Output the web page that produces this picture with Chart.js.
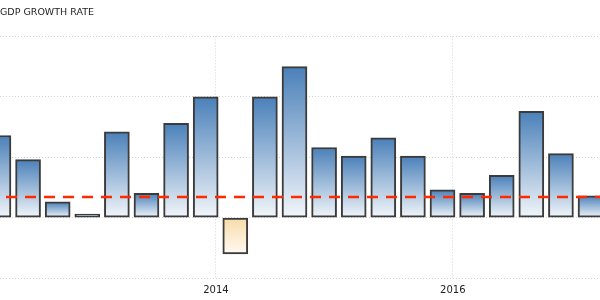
<!DOCTYPE html>
<html>
<head>
<meta charset="utf-8">
<script src="https://cdn.jsdelivr.net/npm/chart.js@4/dist/chart.umd.min.js"></script>
<style>
  html, body { margin: 0; padding: 0; background: #fff; }
  #wrap { width: 600px; height: 300px; }
</style>
</head>
<body>
<div id="wrap"><canvas id="gdpChart"></canvas></div>
<script>
// quarterly GDP growth, q/q %
const quarters = ['2012Q1', '2012Q2', '2012Q3', '2012Q4', '2013Q1', '2013Q2', '2013Q3', '2013Q4',
    '2014Q1', '2014Q2', '2014Q3', '2014Q4', '2015Q1', '2015Q2', '2015Q3', '2015Q4',
    '2016Q1', '2016Q2', '2016Q3', '2016Q4', '2017Q1'];
const growth = [0.68, 0.48, 0.13, 0.03, 0.71, 0.20, 0.78, 1.00,
    -0.30, 1.00, 1.25, 0.58, 0.51, 0.66, 0.51, 0.23,
    0.20, 0.35, 0.88, 0.53, 0.18];
const average = 0.17;
const tickYears = [2014, 2016];
const gridValues = [-0.5, 0, 0.5, 1, 1.5];

// bars sit a little into each quarter on the time axis
function quarterToX(label) {
    const year = parseInt(label.slice(0, 4));
    const q = parseInt(label.slice(5));
    return year + (q - 1) * 0.25 + 0.163;
}

const xMin = 2012.176;
const xMax = 2017.243;

const barPoints = quarters.map((q, i) => ({ x: quarterToX(q), y: growth[i] }));

function barFill(context) {
    const chart = context.chart;
    const area = chart.chartArea;
    const v = context.raw ? context.raw.y : 0;
    if (!area) return v < 0 ? '#f8dcaa' : '#4f86bf';
    const y = chart.scales.y;
    const top = y.getPixelForValue(Math.max(v, 0));
    const bottom = y.getPixelForValue(Math.min(v, 0));
    const g = chart.ctx.createLinearGradient(0, top, 0, bottom + 0.01);
    if (v < 0) {
        g.addColorStop(0, '#f8dba8');
        g.addColorStop(1, '#fffaf3');
    } else {
        g.addColorStop(0, '#4a80b9');
        g.addColorStop(1, '#f2f6fa');
    }
    return g;
}

const ctx = document.getElementById('gdpChart').getContext('2d');

new Chart(ctx, {
    data: {
        datasets: [{
            type: 'line',
            data: [{ x: xMin, y: average }, { x: xMax, y: average }],
            borderColor: '#ff2a00',
            borderWidth: 2.5,
            borderDash: [11, 8],
            borderDashOffset: 13,
            pointRadius: 0,
            order: 0,
        }, {
            type: 'bar',
            data: barPoints,
            backgroundColor: barFill,
            borderColor: 'rgba(25,25,25,0.85)',
            borderWidth: 2,
            borderSkipped: false,
            barThickness: 25,
            order: 1,
        }],
    },
    options: {
        responsive: true,
        maintainAspectRatio: false,
        animation: false,
        layout: { padding: { left: 0, right: 0, top: 0, bottom: 5 } },
        plugins: {
            legend: { display: false },
            tooltip: { enabled: false },
            title: {
                display: true,
                text: 'GDP GROWTH RATE',
                align: 'start',
                color: '#222',
                font: { family: 'DejaVu Sans', size: 9.5, weight: 'normal' },
                padding: { top: 7, bottom: 18 },
            },
        },
        scales: {
            x: {
                type: 'linear',
                min: xMin,
                max: xMax,
                offset: false,
                afterBuildTicks: scale => {
                    scale.ticks = tickYears.map(v => ({ value: v }));
                },
                afterFit: scale => { scale.height = 17; },
                ticks: {
                    callback: v => String(v),
                    color: '#222',
                    font: { family: 'DejaVu Sans', size: 10 },
                    padding: 6,
                    maxRotation: 0,
                },
                grid: { color: '#d4d4d4', drawTicks: false, offset: false },
                border: { display: false, dash: [1, 2] },
            },
            y: {
                min: -0.5,
                max: 1.5,
                afterBuildTicks: scale => {
                    scale.ticks = gridValues.map(v => ({ value: v }));
                },
                ticks: { display: false },
                grid: { color: '#d4d4d4', drawTicks: false },
                border: { display: false, dash: [1, 2] },
            },
        },
    },
});
</script>
</body>
</html>
